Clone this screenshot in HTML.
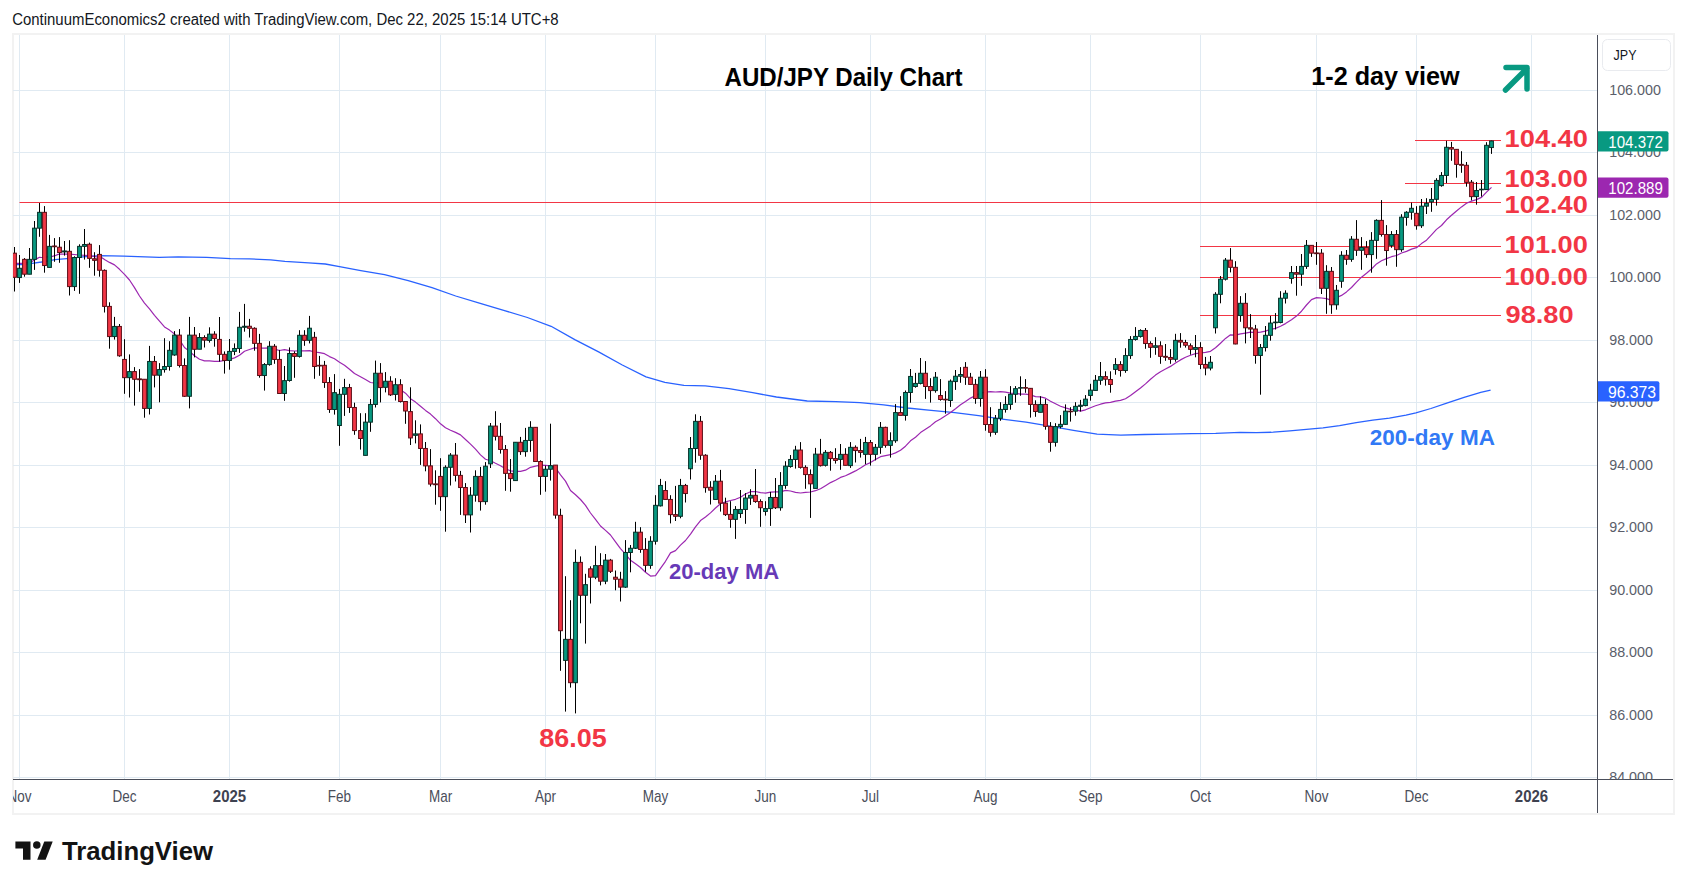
<!DOCTYPE html><html><head><meta charset="utf-8"><style>
html,body{margin:0;padding:0;background:#fff;}
body{width:1687px;height:889px;overflow:hidden;position:relative;font-family:"Liberation Sans",sans-serif;}
svg{position:absolute;left:0;top:0;}
</style></head><body>
<svg width="1687" height="889" viewBox="0 0 1687 889" font-family="Liberation Sans, sans-serif">
<defs><clipPath id="pane"><rect x="13" y="35" width="1584.5" height="744"/></clipPath><clipPath id="paxis"><rect x="1598" y="35" width="75" height="744.5"/></clipPath></defs>
<text x="12.2" y="25" font-size="15.6" fill="#131722" textLength="546.5" lengthAdjust="spacingAndGlyphs">ContinuumEconomics2 created with TradingView.com, Dec 22, 2025 15:14 UTC+8</text>
<rect x="13" y="34" width="1661" height="780" fill="#fff" stroke="#f2f2f2" stroke-width="2"/>
<g clip-path="url(#pane)">
<path d="M19.5 35V779 M124.5 35V779 M229.5 35V779 M339.5 35V779 M440.5 35V779 M545.5 35V779 M655.5 35V779 M765.5 35V779 M870.5 35V779 M985.5 35V779 M1090.5 35V779 M1200.5 35V779 M1316.5 35V779 M1416.5 35V779 M1531.5 35V779 M13 90.5H1597 M13 152.5H1597 M13 215.5H1597 M13 277.5H1597 M13 340.5H1597 M13 402.5H1597 M13 465.5H1597 M13 527.5H1597 M13 590.5H1597 M13 652.5H1597 M13 715.5H1597 M13 777.5H1597" stroke="#e0eaf2" stroke-width="1" fill="none"/>
<path d="M1415.0 140.5H1501 M1405.0 183.5H1501 M19.5 202.5H1501 M1200.0 246.5H1501 M1200.0 277.5H1501 M1200.0 315.5H1501" stroke="#f23645" stroke-width="1" fill="none"/>
<polyline points="13.0,264.6 16.7,264.5 21.9,264.6 32.0,263.3 41.5,262.0 52.3,260.2 55.0,259.7 66.7,258.6 83.0,256.9 100.0,255.7 123.7,256.1 159.3,257.3 178.2,256.9 206.7,257.3 230.4,258.6 249.4,258.8 270.7,259.9 284.9,261.4 308.7,262.8 325.3,264.0 339.5,266.6 360.8,270.6 384.5,274.6 408.2,280.6 432.0,287.7 455.7,296.0 479.4,303.1 503.7,310.4 527.4,317.5 551.1,326.3 574.8,339.6 598.6,351.9 622.3,365.0 646.0,376.8 664.9,382.3 683.9,385.4 705.3,385.8 729.0,388.7 752.7,392.7 776.4,397.0 807.2,401.0 835.7,401.7 860.0,402.6 883.7,404.9 907.4,408.0 931.1,410.3 954.8,412.7 978.6,415.6 1002.3,419.1 1026.0,422.2 1049.7,426.2 1073.4,430.3 1097.1,434.1 1120.8,435.2 1144.5,434.5 1168.2,434.1 1191.9,433.6 1215.7,433.3 1240.0,432.3 1256.6,432.6 1273.2,432.2 1289.8,430.9 1306.4,429.4 1323.0,427.8 1339.6,425.6 1356.2,422.6 1372.8,420.1 1389.4,418.1 1406.0,415.1 1415.9,412.8 1430.9,408.5 1447.5,402.9 1464.1,397.4 1480.7,392.4 1490.6,390.2" fill="none" stroke="#2962ff" stroke-width="1.3" stroke-linejoin="round"/>
<polyline points="13.0,263.4 16.7,263.3 21.9,263.3 32.0,261.5 37.0,258.6 39.4,257.3 41.5,257.5 52.3,256.4 55.0,255.7 58.1,254.4 61.7,254.0 66.7,254.2 69.4,254.2 79.3,255.0 89.2,255.6 96.6,256.9 101.6,257.5 105.3,260.0 109.5,262.4 114.5,264.9 119.5,269.3 124.5,274.4 129.5,280.0 134.5,287.6 139.5,296.0 144.5,303.1 149.5,308.9 154.5,315.3 159.5,321.1 164.5,326.9 169.5,330.1 174.5,334.0 179.5,339.9 184.5,347.5 189.5,351.4 194.5,355.8 199.5,359.2 204.5,360.9 209.5,360.8 214.5,361.4 219.5,361.3 224.5,360.4 229.5,359.4 234.5,357.9 239.5,355.3 244.5,351.2 249.5,349.5 254.5,347.9 259.5,348.2 264.5,348.1 269.5,347.9 274.5,349.1 279.5,350.5 284.5,349.7 289.5,350.7 294.5,351.0 299.5,350.9 304.5,350.9 309.5,350.6 314.5,352.0 319.5,352.6 324.5,353.7 329.5,356.6 334.5,358.8 339.5,362.2 344.5,365.2 349.5,369.2 354.5,373.5 360.5,376.7 365.5,379.6 370.5,382.5 375.5,383.2 380.5,382.9 385.5,382.9 390.5,385.0 395.5,386.4 400.5,389.7 405.5,393.2 410.5,398.7 415.5,402.1 420.5,406.2 425.5,410.4 430.5,414.1 435.5,418.7 440.5,423.8 445.5,427.8 450.5,430.2 455.5,432.4 460.5,434.9 465.5,439.5 470.5,444.1 475.5,449.2 480.5,454.9 485.5,459.2 490.5,460.7 495.5,463.3 500.5,465.7 505.5,468.8 510.5,470.9 515.5,471.3 520.5,471.4 525.5,470.2 530.5,467.3 535.5,466.2 540.5,465.2 545.5,465.3 550.5,465.8 555.5,467.8 560.5,474.9 565.5,481.1 570.5,490.5 575.5,494.8 580.5,499.5 585.5,505.4 590.5,513.0 595.5,519.4 600.5,526.0 605.5,530.4 610.5,535.0 615.5,541.9 620.5,548.6 625.5,554.2 630.5,560.3 635.5,563.8 640.5,567.5 645.5,572.3 650.5,576.1 655.5,575.6 660.5,568.3 665.5,561.3 670.5,552.9 675.5,550.6 680.5,545.1 685.5,540.5 690.5,534.1 695.5,526.9 700.5,520.6 705.5,517.0 710.5,512.9 715.5,508.0 720.5,503.8 725.5,501.9 730.5,500.5 735.5,499.3 740.5,497.3 745.5,494.0 750.5,491.7 755.5,491.5 760.5,492.6 765.5,493.1 770.5,492.2 775.5,491.8 780.5,491.8 785.5,490.4 790.5,491.0 795.5,492.4 800.5,493.0 805.5,492.3 810.5,492.0 815.5,490.7 820.5,488.8 825.5,485.7 830.5,482.6 835.5,480.2 840.5,477.4 845.5,475.8 850.5,473.4 855.5,470.9 860.5,468.1 865.5,464.8 870.5,462.6 875.5,459.6 880.5,456.7 885.5,455.7 890.5,454.7 895.5,452.9 900.5,450.3 905.5,446.2 910.5,440.8 915.5,437.2 920.5,432.6 925.5,429.3 930.5,425.9 935.5,421.8 940.5,419.0 945.5,415.8 950.5,412.4 955.5,408.7 960.5,404.8 965.5,401.6 970.5,398.1 975.5,395.6 980.5,393.1 985.5,392.1 990.5,391.7 995.5,392.0 1000.5,391.7 1005.5,392.2 1010.5,393.1 1015.5,393.4 1020.5,394.1 1025.5,394.2 1030.5,394.9 1035.5,396.6 1040.5,396.9 1045.5,398.2 1050.5,401.2 1055.5,403.8 1060.5,406.3 1065.5,407.9 1070.5,409.3 1075.5,409.7 1080.5,411.1 1085.5,409.8 1090.5,407.7 1095.5,405.8 1100.5,404.2 1105.5,402.9 1110.5,402.4 1115.5,401.2 1120.5,400.4 1125.5,398.7 1130.5,395.5 1135.5,391.7 1140.5,388.0 1145.5,383.9 1150.5,379.2 1155.5,375.1 1160.5,371.7 1165.5,369.0 1170.5,366.4 1175.5,363.1 1180.5,359.9 1185.5,357.2 1190.5,355.2 1195.5,353.6 1200.5,353.0 1205.5,352.4 1210.5,351.3 1215.5,347.8 1220.5,343.2 1225.5,338.4 1230.5,334.8 1235.5,335.2 1240.5,333.9 1245.5,333.1 1250.5,332.2 1255.5,332.6 1260.5,332.2 1265.5,331.1 1270.5,329.3 1275.5,328.4 1280.5,326.2 1285.5,323.6 1291.5,319.8 1296.5,316.1 1301.5,311.2 1306.5,305.0 1311.5,299.6 1316.5,297.6 1321.5,298.0 1326.5,298.6 1331.5,300.4 1336.5,297.8 1341.5,295.4 1346.5,291.9 1351.5,287.5 1356.5,282.2 1361.5,277.2 1366.5,273.2 1371.5,269.0 1376.5,263.9 1381.5,260.7 1386.5,258.6 1391.5,256.7 1396.5,255.5 1401.5,253.0 1406.5,251.4 1411.5,249.1 1416.5,247.7 1421.5,243.6 1426.5,240.2 1431.5,234.9 1436.5,229.4 1441.5,225.5 1446.5,219.8 1451.5,215.3 1456.5,211.0 1461.5,206.9 1466.5,203.3 1471.5,201.1 1476.5,199.6 1481.5,197.4 1486.5,192.1 1491.5,187.4" fill="none" stroke="#9c27b0" stroke-width="1.2" stroke-linejoin="round"/>
<path d="M14.5 247.0V291.5 M19.5 255.0V282.9 M24.5 258.1V276.7 M29.5 248.0V274.2 M34.5 221.0V269.9 M39.5 203.0V236.8 M44.5 206.1V272.7 M49.5 234.9V267.4 M54.5 238.1V261.8 M59.5 237.1V262.8 M64.5 241.0V255.6 M69.5 240.2V295.5 M74.5 256.3V290.9 M79.5 244.3V293.8 M84.5 229.0V259.6 M89.5 242.6V267.8 M94.5 252.2V275.7 M99.5 245.1V276.7 M104.5 269.4V312.5 M109.5 302.3V348.7 M114.5 316.9V339.6 M119.5 324.0V356.8 M124.5 339.2V393.8 M129.5 354.4V397.5 M134.5 367.1V405.6 M139.5 369.1V391.8 M144.5 379.3V417.7 M149.5 345.9V414.5 M154.5 356.0V387.4 M159.5 363.1V402.3 M164.5 338.2V372.6 M169.5 341.2V370.6 M174.5 331.1V355.8 M179.5 329.1V367.5 M184.5 358.4V396.9 M189.5 316.9V408.4 M194.5 327.0V357.4 M199.5 333.1V349.2 M204.5 335.3V347.5 M209.5 327.3V342.6 M214.5 331.2V346.7 M219.5 317.0V361.6 M224.5 351.4V373.6 M229.5 339.0V369.7 M234.5 343.4V355.1 M239.5 311.9V352.9 M244.5 303.9V331.7 M249.5 318.9V337.5 M254.5 327.3V350.7 M259.5 333.9V377.7 M264.5 363.1V390.6 M269.5 341.2V365.7 M274.5 344.1V363.8 M279.5 349.9V393.5 M284.5 366.0V400.8 M289.5 347.4V381.7 M294.5 351.3V377.8 M299.5 330.2V357.6 M304.5 330.2V345.8 M309.5 315.9V343.4 M314.5 331.9V378.8 M319.5 355.9V375.8 M324.5 360.9V387.9 M329.5 377.1V412.9 M334.5 374.1V414.6 M339.5 388.9V445.8 M344.5 378.8V415.9 M349.5 383.9V412.9 M354.5 402.7V434.8 M360.5 413.2V449.6 M365.5 413.2V455.4 M370.5 399.0V431.8 M375.5 360.6V407.5 M380.5 363.1V402.4 M385.5 372.1V392.4 M390.5 376.2V396.0 M395.5 378.2V400.5 M400.5 379.2V402.5 M405.5 401.5V423.8 M410.5 387.3V445.0 M415.5 420.3V443.4 M420.5 424.4V464.9 M425.5 442.0V471.3 M430.5 449.1V486.5 M435.5 470.3V504.7 M440.5 458.2V510.8 M445.5 465.3V531.7 M450.5 453.1V485.5 M455.5 443.0V481.5 M460.5 470.9V514.9 M465.5 483.1V523.0 M470.5 487.1V532.5 M475.5 470.3V501.7 M480.5 466.9V510.6 M485.5 462.1V504.7 M490.5 423.0V468.0 M495.5 411.2V440.5 M500.5 423.0V453.6 M505.5 445.0V490.8 M510.5 459.0V491.7 M515.5 442.3V480.6 M520.5 436.9V454.9 M525.5 427.9V456.7 M530.5 421.2V451.8 M535.5 427.3V461.5 M540.5 460.3V494.8 M545.5 465.6V491.7 M550.5 423.7V480.6 M555.5 465.1V518.7 M560.5 508.7V670.8 M565.5 576.2V711.6 M570.5 600.2V687.6 M575.5 549.5V713.4 M580.5 556.4V623.3 M585.5 573.8V643.6 M590.5 566.3V603.5 M595.5 545.8V579.2 M600.5 553.2V585.4 M605.5 554.0V584.2 M610.5 558.9V573.0 M615.5 570.5V590.3 M620.5 571.8V601.5 M625.5 540.1V587.9 M630.5 545.0V572.3 M635.5 521.8V549.0 M640.5 527.2V552.8 M645.5 538.1V571.8 M650.5 536.2V568.8 M655.5 495.2V544.6 M660.5 478.9V506.5 M665.5 481.2V499.4 M670.5 495.2V523.4 M675.5 485.9V521.0 M680.5 478.9V518.3 M685.5 483.9V502.5 M690.5 437.0V479.5 M695.5 414.3V462.7 M700.5 416.0V459.8 M705.5 454.2V492.7 M710.5 481.2V504.5 M715.5 475.0V499.4 M720.5 469.9V511.6 M725.5 497.7V516.0 M730.5 501.2V527.8 M735.5 506.1V538.9 M740.5 490.0V517.9 M745.5 493.1V523.8 M750.5 489.2V504.9 M755.5 469.0V502.8 M760.5 499.3V526.8 M765.5 501.2V515.6 M770.5 491.9V525.9 M775.5 478.0V509.0 M780.5 472.1V510.7 M785.5 461.2V488.8 M790.5 455.0V467.7 M795.5 445.8V468.6 M800.5 442.1V468.6 M805.5 465.3V488.8 M810.5 469.4V517.9 M815.5 447.9V488.4 M820.5 438.9V466.5 M825.5 450.1V466.5 M830.5 451.0V470.7 M835.5 448.2V463.6 M840.5 444.0V469.8 M845.5 448.2V465.3 M850.5 442.1V467.9 M855.5 445.4V462.5 M860.5 438.9V457.6 M865.5 436.9V464.2 M870.5 440.0V465.6 M875.5 444.0V460.4 M880.5 422.0V453.8 M885.5 426.7V447.7 M890.5 432.3V457.6 M895.5 404.1V442.8 M900.5 396.1V415.4 M905.5 390.5V420.6 M910.5 369.0V402.7 M915.5 372.9V387.7 M920.5 358.0V384.4 M925.5 361.1V398.9 M930.5 378.2V402.6 M935.5 372.0V392.7 M940.5 379.1V400.7 M945.5 391.1V413.7 M950.5 379.5V406.9 M955.5 370.0V389.9 M960.5 367.1V382.8 M965.5 362.1V384.9 M970.5 372.9V384.4 M975.5 379.1V403.8 M980.5 371.0V406.7 M985.5 369.2V430.7 M990.5 407.2V436.6 M995.5 415.0V434.8 M1000.5 402.2V420.8 M1005.5 396.2V412.6 M1010.5 386.1V409.7 M1015.5 386.1V402.7 M1020.5 376.3V395.8 M1025.5 379.1V392.8 M1030.5 388.1V417.6 M1035.5 400.3V416.8 M1040.5 396.2V412.3 M1045.5 399.1V429.7 M1050.5 422.1V451.7 M1055.5 423.2V446.6 M1060.5 415.1V428.4 M1065.5 404.4V424.7 M1070.5 407.2V421.6 M1075.5 402.2V415.7 M1080.5 399.9V411.5 M1085.5 395.1V406.3 M1090.5 383.8V400.7 M1095.5 375.0V390.4 M1100.5 362.0V384.8 M1105.5 371.3V385.6 M1110.5 371.3V392.7 M1115.5 358.1V374.7 M1120.5 361.2V376.6 M1125.5 348.2V372.8 M1130.5 336.1V358.9 M1135.5 327.1V340.6 M1140.5 329.3V337.6 M1145.5 328.0V348.8 M1150.5 341.3V357.8 M1155.5 337.2V354.8 M1160.5 341.3V363.8 M1165.5 344.0V360.8 M1170.5 349.1V363.8 M1175.5 333.8V361.7 M1180.5 333.1V347.7 M1185.5 339.8V347.6 M1190.5 343.4V354.7 M1195.5 335.0V357.3 M1200.5 342.2V369.1 M1205.5 356.9V375.3 M1210.5 356.0V370.4 M1215.5 292.2V333.5 M1220.5 276.0V303.3 M1225.5 258.0V280.5 M1230.5 248.1V272.4 M1235.5 261.2V344.3 M1240.5 296.1V321.8 M1245.5 293.1V343.4 M1250.5 314.1V338.0 M1255.5 324.9V363.7 M1260.5 344.0V394.7 M1265.5 326.0V351.5 M1270.5 315.9V340.7 M1275.5 313.1V329.5 M1280.5 291.2V323.3 M1285.5 290.3V303.5 M1291.5 266.0V283.7 M1296.5 266.0V295.7 M1301.5 254.0V285.8 M1306.5 240.0V268.9 M1311.5 245.4V256.9 M1316.5 242.0V264.8 M1321.5 249.1V294.0 M1326.5 265.2V313.8 M1331.5 267.0V313.8 M1336.5 285.0V309.7 M1341.5 251.2V287.8 M1346.5 250.0V264.8 M1351.5 236.1V261.8 M1356.5 220.1V255.9 M1361.5 237.1V269.8 M1366.5 241.1V257.8 M1371.5 232.1V272.7 M1376.5 219.3V258.8 M1381.5 200.1V236.6 M1386.5 225.1V265.7 M1391.5 231.1V247.8 M1396.5 230.0V266.8 M1401.5 214.2V251.8 M1406.5 211.2V225.7 M1411.5 202.6V219.7 M1416.5 206.2V229.7 M1421.5 199.0V227.9 M1426.5 198.2V214.0 M1431.5 188.0V211.8 M1436.5 178.2V205.6 M1441.5 172.1V186.7 M1446.5 140.8V183.1 M1451.5 141.9V160.8 M1456.5 149.1V177.7 M1461.5 151.2V172.8 M1466.5 162.0V186.7 M1471.5 180.0V200.4 M1476.5 182.0V204.7 M1481.5 180.0V196.6 M1486.5 142.2V189.6 M1491.5 140.6V153.9" stroke="#000" stroke-width="1" fill="none"/>
<g fill="#089981" stroke="#052e26" stroke-width="1"><rect x="17.60" y="268.27" width="3.80" height="9.28"/><rect x="27.60" y="259.36" width="3.80" height="14.85"/><rect x="32.60" y="228.17" width="3.80" height="31.19"/><rect x="37.60" y="212.33" width="3.80" height="15.84"/><rect x="47.60" y="246.36" width="3.80" height="21.04"/><rect x="62.60" y="250.94" width="3.80" height="0.99"/><rect x="72.60" y="257.50" width="3.80" height="29.08"/><rect x="77.60" y="246.36" width="3.80" height="11.14"/><rect x="82.60" y="244.50" width="3.80" height="1.86"/><rect x="112.60" y="326.44" width="3.80" height="10.12"/><rect x="127.60" y="371.58" width="3.80" height="6.07"/><rect x="147.60" y="361.46" width="3.80" height="46.96"/><rect x="157.60" y="369.55" width="3.80" height="5.67"/><rect x="162.60" y="366.52" width="3.80" height="3.04"/><rect x="167.60" y="350.32" width="3.80" height="16.19"/><rect x="172.60" y="335.14" width="3.80" height="19.84"/><rect x="187.60" y="335.14" width="3.80" height="61.13"/><rect x="197.60" y="337.51" width="3.80" height="11.70"/><rect x="207.60" y="334.15" width="3.80" height="6.29"/><rect x="227.60" y="351.40" width="3.80" height="9.06"/><rect x="232.60" y="348.48" width="3.80" height="2.92"/><rect x="237.60" y="327.28" width="3.80" height="21.20"/><rect x="242.60" y="326.26" width="3.80" height="1.02"/><rect x="262.60" y="364.56" width="3.80" height="10.96"/><rect x="267.60" y="346.29" width="3.80" height="18.27"/><rect x="282.60" y="380.64" width="3.80" height="12.87"/><rect x="287.60" y="353.51" width="3.80" height="26.98"/><rect x="297.60" y="335.30" width="3.80" height="21.08"/><rect x="307.60" y="328.21" width="3.80" height="12.14"/><rect x="332.60" y="392.63" width="3.80" height="16.86"/><rect x="337.60" y="394.32" width="3.80" height="31.20"/><rect x="342.60" y="387.57" width="3.80" height="6.75"/><rect x="363.60" y="422.14" width="3.80" height="33.22"/><rect x="368.60" y="404.44" width="3.80" height="17.71"/><rect x="373.60" y="373.24" width="3.80" height="31.20"/><rect x="383.60" y="381.26" width="3.80" height="6.07"/><rect x="393.60" y="384.70" width="3.80" height="9.72"/><rect x="413.60" y="433.89" width="3.80" height="1.42"/><rect x="443.60" y="467.29" width="3.80" height="29.35"/><rect x="448.60" y="455.14" width="3.80" height="12.15"/><rect x="468.60" y="495.22" width="3.80" height="19.64"/><rect x="473.60" y="476.40" width="3.80" height="18.83"/><rect x="483.60" y="466.19" width="3.80" height="35.43"/><rect x="488.60" y="426.08" width="3.80" height="37.77"/><rect x="513.60" y="442.27" width="3.80" height="38.31"/><rect x="523.60" y="440.47" width="3.80" height="11.15"/><rect x="528.60" y="427.34" width="3.80" height="13.13"/><rect x="543.60" y="469.24" width="3.80" height="7.19"/><rect x="548.60" y="465.65" width="3.80" height="3.60"/><rect x="563.60" y="639.36" width="3.80" height="21.04"/><rect x="573.60" y="562.38" width="3.80" height="120.30"/><rect x="583.60" y="584.65" width="3.80" height="10.64"/><rect x="593.60" y="565.59" width="3.80" height="11.63"/><rect x="603.60" y="560.15" width="3.80" height="21.04"/><rect x="623.60" y="552.48" width="3.80" height="34.65"/><rect x="628.60" y="548.27" width="3.80" height="4.21"/><rect x="633.60" y="532.18" width="3.80" height="16.09"/><rect x="648.60" y="541.30" width="3.80" height="24.10"/><rect x="653.60" y="505.34" width="3.80" height="35.92"/><rect x="658.60" y="485.44" width="3.80" height="20.40"/><rect x="678.60" y="485.44" width="3.80" height="30.86"/><rect x="688.60" y="448.51" width="3.80" height="20.24"/><rect x="693.60" y="421.36" width="3.80" height="27.15"/><rect x="713.60" y="481.22" width="3.80" height="18.21"/><rect x="733.60" y="509.46" width="3.80" height="9.90"/><rect x="738.60" y="509.46" width="3.80" height="4.08"/><rect x="743.60" y="498.07" width="3.80" height="11.39"/><rect x="748.60" y="495.35" width="3.80" height="2.72"/><rect x="763.60" y="508.59" width="3.80" height="2.85"/><rect x="768.60" y="497.45" width="3.80" height="11.14"/><rect x="778.60" y="485.45" width="3.80" height="22.28"/><rect x="783.60" y="466.14" width="3.80" height="19.31"/><rect x="788.60" y="459.46" width="3.80" height="7.05"/><rect x="793.60" y="450.05" width="3.80" height="9.41"/><rect x="813.60" y="454.13" width="3.80" height="34.28"/><rect x="823.60" y="452.39" width="3.80" height="12.94"/><rect x="838.60" y="454.36" width="3.80" height="5.06"/><rect x="848.60" y="447.33" width="3.80" height="18.28"/><rect x="863.60" y="442.55" width="3.80" height="11.81"/><rect x="873.60" y="447.33" width="3.80" height="7.03"/><rect x="878.60" y="427.36" width="3.80" height="19.97"/><rect x="888.60" y="440.72" width="3.80" height="4.64"/><rect x="893.60" y="412.59" width="3.80" height="28.13"/><rect x="903.60" y="392.48" width="3.80" height="22.93"/><rect x="908.60" y="376.44" width="3.80" height="16.03"/><rect x="913.60" y="383.42" width="3.80" height="3.09"/><rect x="918.60" y="373.27" width="3.80" height="10.15"/><rect x="933.60" y="377.23" width="3.80" height="13.37"/><rect x="948.60" y="381.19" width="3.80" height="19.31"/><rect x="953.60" y="376.24" width="3.80" height="5.32"/><rect x="958.60" y="374.50" width="3.80" height="1.73"/><rect x="978.60" y="377.23" width="3.80" height="21.29"/><rect x="993.60" y="418.32" width="3.80" height="13.99"/><rect x="998.60" y="409.41" width="3.80" height="8.91"/><rect x="1003.60" y="404.43" width="3.80" height="5.06"/><rect x="1008.60" y="394.31" width="3.80" height="10.12"/><rect x="1013.60" y="388.68" width="3.80" height="5.62"/><rect x="1018.60" y="387.56" width="3.80" height="0.60"/><rect x="1038.60" y="404.43" width="3.80" height="7.87"/><rect x="1053.60" y="426.59" width="3.80" height="15.75"/><rect x="1058.60" y="424.34" width="3.80" height="2.25"/><rect x="1063.60" y="411.18" width="3.80" height="13.16"/><rect x="1073.60" y="406.34" width="3.80" height="4.84"/><rect x="1078.60" y="405.22" width="3.80" height="1.12"/><rect x="1083.60" y="399.15" width="3.80" height="6.41"/><rect x="1088.60" y="390.15" width="3.80" height="5.29"/><rect x="1093.60" y="380.30" width="3.80" height="10.12"/><rect x="1098.60" y="376.59" width="3.80" height="3.71"/><rect x="1113.60" y="364.56" width="3.80" height="4.84"/><rect x="1123.60" y="355.56" width="3.80" height="14.96"/><rect x="1128.60" y="339.47" width="3.80" height="16.09"/><rect x="1133.60" y="336.43" width="3.80" height="3.04"/><rect x="1138.60" y="330.47" width="3.80" height="5.96"/><rect x="1153.60" y="345.77" width="3.80" height="1.57"/><rect x="1173.60" y="340.37" width="3.80" height="18.90"/><rect x="1193.60" y="347.55" width="3.80" height="1.80"/><rect x="1208.60" y="362.30" width="3.80" height="5.76"/><rect x="1213.60" y="294.32" width="3.80" height="33.45"/><rect x="1218.60" y="279.21" width="3.80" height="15.11"/><rect x="1223.60" y="260.14" width="3.80" height="19.06"/><rect x="1238.60" y="303.31" width="3.80" height="12.23"/><rect x="1258.60" y="347.55" width="3.80" height="7.91"/><rect x="1263.60" y="335.32" width="3.80" height="12.23"/><rect x="1268.60" y="323.09" width="3.80" height="12.23"/><rect x="1273.60" y="322.10" width="3.80" height="0.62"/><rect x="1278.60" y="298.22" width="3.80" height="24.26"/><rect x="1283.60" y="293.27" width="3.80" height="4.95"/><rect x="1289.60" y="272.60" width="3.80" height="5.82"/><rect x="1299.60" y="266.41" width="3.80" height="7.80"/><rect x="1304.60" y="245.37" width="3.80" height="21.04"/><rect x="1324.60" y="271.36" width="3.80" height="16.96"/><rect x="1334.60" y="290.30" width="3.80" height="14.48"/><rect x="1339.60" y="255.27" width="3.80" height="25.99"/><rect x="1349.60" y="239.18" width="3.80" height="20.17"/><rect x="1359.60" y="247.48" width="3.80" height="2.85"/><rect x="1369.60" y="240.36" width="3.80" height="14.21"/><rect x="1374.60" y="220.38" width="3.80" height="19.98"/><rect x="1389.60" y="234.49" width="3.80" height="10.90"/><rect x="1399.60" y="217.18" width="3.80" height="32.48"/><rect x="1404.60" y="212.26" width="3.80" height="5.13"/><rect x="1409.60" y="208.31" width="3.80" height="3.95"/><rect x="1419.60" y="206.18" width="3.80" height="19.55"/><rect x="1424.60" y="203.29" width="3.80" height="2.88"/><rect x="1429.60" y="199.44" width="3.80" height="2.46"/><rect x="1434.60" y="180.41" width="3.80" height="18.90"/><rect x="1439.60" y="175.45" width="3.80" height="10.17"/><rect x="1444.60" y="147.28" width="3.80" height="28.17"/><rect x="1474.60" y="190.49" width="3.80" height="6.12"/><rect x="1479.60" y="189.23" width="3.80" height="0.60"/><rect x="1484.60" y="145.30" width="3.80" height="44.28"/><rect x="1489.60" y="140.98" width="3.80" height="6.57"/></g>
<g fill="#f23645" stroke="#5a0c14" stroke-width="1"><rect x="12.60" y="253.17" width="3.80" height="24.13"/><rect x="22.60" y="259.36" width="3.80" height="14.85"/><rect x="42.60" y="212.33" width="3.80" height="53.22"/><rect x="52.60" y="245.99" width="3.80" height="0.74"/><rect x="57.60" y="247.23" width="3.80" height="5.32"/><rect x="67.60" y="251.31" width="3.80" height="35.27"/><rect x="87.60" y="244.26" width="3.80" height="14.11"/><rect x="92.60" y="258.74" width="3.80" height="1.61"/><rect x="97.60" y="254.41" width="3.80" height="15.84"/><rect x="102.60" y="270.36" width="3.80" height="36.03"/><rect x="107.60" y="306.40" width="3.80" height="30.16"/><rect x="117.60" y="326.44" width="3.80" height="29.35"/><rect x="122.60" y="359.43" width="3.80" height="18.22"/><rect x="132.60" y="371.58" width="3.80" height="7.69"/><rect x="137.60" y="378.87" width="3.80" height="0.81"/><rect x="142.60" y="379.27" width="3.80" height="29.15"/><rect x="152.60" y="361.46" width="3.80" height="13.77"/><rect x="177.60" y="335.14" width="3.80" height="30.36"/><rect x="182.60" y="365.51" width="3.80" height="30.77"/><rect x="192.60" y="335.14" width="3.80" height="14.17"/><rect x="202.60" y="337.51" width="3.80" height="2.63"/><rect x="212.60" y="334.15" width="3.80" height="4.39"/><rect x="217.60" y="339.42" width="3.80" height="14.91"/><rect x="222.60" y="354.33" width="3.80" height="6.14"/><rect x="247.60" y="326.26" width="3.80" height="2.05"/><rect x="252.60" y="328.30" width="3.80" height="15.06"/><rect x="257.60" y="343.36" width="3.80" height="32.16"/><rect x="272.60" y="346.29" width="3.80" height="13.16"/><rect x="277.60" y="359.44" width="3.80" height="34.06"/><rect x="292.60" y="353.51" width="3.80" height="2.87"/><rect x="302.60" y="335.30" width="3.80" height="5.06"/><rect x="312.60" y="337.32" width="3.80" height="29.17"/><rect x="317.60" y="365.31" width="3.80" height="0.67"/><rect x="322.60" y="365.31" width="3.80" height="17.20"/><rect x="327.60" y="382.51" width="3.80" height="26.98"/><rect x="347.60" y="387.57" width="3.80" height="19.90"/><rect x="352.60" y="407.47" width="3.80" height="23.10"/><rect x="358.60" y="430.57" width="3.80" height="7.93"/><rect x="378.60" y="373.24" width="3.80" height="14.33"/><rect x="388.60" y="381.26" width="3.80" height="13.56"/><rect x="398.60" y="384.70" width="3.80" height="16.80"/><rect x="403.60" y="401.50" width="3.80" height="9.51"/><rect x="408.60" y="411.62" width="3.80" height="26.32"/><rect x="418.60" y="433.89" width="3.80" height="14.57"/><rect x="423.60" y="448.46" width="3.80" height="17.41"/><rect x="428.60" y="465.87" width="3.80" height="18.22"/><rect x="433.60" y="483.89" width="3.80" height="0.81"/><rect x="438.60" y="476.40" width="3.80" height="20.24"/><rect x="453.60" y="455.14" width="3.80" height="20.24"/><rect x="458.60" y="475.38" width="3.80" height="12.15"/><rect x="463.60" y="487.53" width="3.80" height="27.33"/><rect x="478.60" y="476.44" width="3.80" height="25.18"/><rect x="493.60" y="426.08" width="3.80" height="10.25"/><rect x="498.60" y="436.33" width="3.80" height="13.13"/><rect x="503.60" y="449.46" width="3.80" height="23.92"/><rect x="508.60" y="473.38" width="3.80" height="5.22"/><rect x="518.60" y="442.27" width="3.80" height="9.35"/><rect x="533.60" y="427.34" width="3.80" height="34.17"/><rect x="538.60" y="461.51" width="3.80" height="14.93"/><rect x="553.60" y="465.11" width="3.80" height="50.00"/><rect x="558.60" y="515.35" width="3.80" height="115.35"/><rect x="568.60" y="639.36" width="3.80" height="43.32"/><rect x="578.60" y="562.38" width="3.80" height="32.92"/><rect x="588.60" y="568.81" width="3.80" height="8.42"/><rect x="598.60" y="565.59" width="3.80" height="15.59"/><rect x="608.60" y="560.15" width="3.80" height="11.14"/><rect x="613.60" y="577.23" width="3.80" height="1.98"/><rect x="618.60" y="579.21" width="3.80" height="7.92"/><rect x="638.60" y="532.20" width="3.80" height="17.30"/><rect x="643.60" y="549.40" width="3.80" height="16.00"/><rect x="663.60" y="490.50" width="3.80" height="8.94"/><rect x="668.60" y="499.44" width="3.80" height="15.18"/><rect x="673.60" y="514.61" width="3.80" height="1.69"/><rect x="683.60" y="485.44" width="3.80" height="8.09"/><rect x="698.60" y="421.36" width="3.80" height="33.90"/><rect x="703.60" y="455.25" width="3.80" height="32.38"/><rect x="708.60" y="487.29" width="3.80" height="2.87"/><rect x="718.60" y="481.22" width="3.80" height="21.92"/><rect x="723.60" y="503.15" width="3.80" height="11.47"/><rect x="728.60" y="514.41" width="3.80" height="4.95"/><rect x="753.60" y="495.35" width="3.80" height="6.19"/><rect x="758.60" y="501.53" width="3.80" height="6.19"/><rect x="773.60" y="497.45" width="3.80" height="10.27"/><rect x="798.60" y="450.05" width="3.80" height="17.33"/><rect x="803.60" y="467.38" width="3.80" height="7.18"/><rect x="808.60" y="474.55" width="3.80" height="9.28"/><rect x="818.60" y="454.13" width="3.80" height="11.51"/><rect x="828.60" y="452.39" width="3.80" height="6.19"/><rect x="833.60" y="458.58" width="3.80" height="1.83"/><rect x="843.60" y="454.36" width="3.80" height="10.97"/><rect x="853.60" y="447.33" width="3.80" height="3.23"/><rect x="858.60" y="450.56" width="3.80" height="1.83"/><rect x="868.60" y="442.55" width="3.80" height="11.81"/><rect x="883.60" y="427.36" width="3.80" height="18.00"/><rect x="898.60" y="412.59" width="3.80" height="2.81"/><rect x="923.60" y="373.27" width="3.80" height="13.24"/><rect x="928.60" y="386.51" width="3.80" height="4.08"/><rect x="938.60" y="395.54" width="3.80" height="3.96"/><rect x="943.60" y="399.26" width="3.80" height="0.60"/><rect x="963.60" y="367.33" width="3.80" height="9.90"/><rect x="968.60" y="377.23" width="3.80" height="7.18"/><rect x="973.60" y="384.41" width="3.80" height="14.11"/><rect x="983.60" y="377.23" width="3.80" height="47.28"/><rect x="988.60" y="424.50" width="3.80" height="7.80"/><rect x="1023.60" y="387.56" width="3.80" height="0.60"/><rect x="1028.60" y="388.35" width="3.80" height="16.09"/><rect x="1033.60" y="404.43" width="3.80" height="7.09"/><rect x="1043.60" y="404.43" width="3.80" height="21.93"/><rect x="1048.60" y="426.37" width="3.80" height="15.97"/><rect x="1068.60" y="411.18" width="3.80" height="0.60"/><rect x="1103.60" y="376.59" width="3.80" height="2.59"/><rect x="1108.60" y="379.52" width="3.80" height="4.95"/><rect x="1118.60" y="364.56" width="3.80" height="5.96"/><rect x="1143.60" y="330.47" width="3.80" height="13.05"/><rect x="1148.60" y="343.52" width="3.80" height="3.82"/><rect x="1158.60" y="345.77" width="3.80" height="10.57"/><rect x="1163.60" y="356.34" width="3.80" height="0.90"/><rect x="1168.60" y="357.47" width="3.80" height="1.80"/><rect x="1178.60" y="340.37" width="3.80" height="1.69"/><rect x="1183.60" y="342.52" width="3.80" height="2.70"/><rect x="1188.60" y="345.76" width="3.80" height="3.60"/><rect x="1198.60" y="347.55" width="3.80" height="16.91"/><rect x="1203.60" y="364.46" width="3.80" height="3.60"/><rect x="1228.60" y="260.14" width="3.80" height="7.19"/><rect x="1233.60" y="267.34" width="3.80" height="76.62"/><rect x="1243.60" y="303.31" width="3.80" height="24.46"/><rect x="1248.60" y="327.77" width="3.80" height="1.26"/><rect x="1253.60" y="329.03" width="3.80" height="26.44"/><rect x="1294.60" y="272.60" width="3.80" height="1.61"/><rect x="1309.60" y="245.37" width="3.80" height="7.80"/><rect x="1314.60" y="252.92" width="3.80" height="0.74"/><rect x="1319.60" y="253.17" width="3.80" height="35.15"/><rect x="1329.60" y="271.36" width="3.80" height="33.42"/><rect x="1344.60" y="255.27" width="3.80" height="4.08"/><rect x="1354.60" y="239.29" width="3.80" height="11.00"/><rect x="1364.60" y="247.31" width="3.80" height="7.26"/><rect x="1379.60" y="220.38" width="3.80" height="14.10"/><rect x="1384.60" y="234.49" width="3.80" height="16.03"/><rect x="1394.60" y="234.49" width="3.80" height="15.17"/><rect x="1414.60" y="213.33" width="3.80" height="12.39"/><rect x="1449.60" y="147.55" width="3.80" height="1.53"/><rect x="1454.60" y="149.35" width="3.80" height="15.03"/><rect x="1459.60" y="164.38" width="3.80" height="0.90"/><rect x="1464.60" y="165.28" width="3.80" height="17.10"/><rect x="1469.60" y="182.21" width="3.80" height="14.40"/></g>
</g>
<path d="M1597.5 35V813M13 779.5H1673" stroke="#4a4e5a" stroke-width="1" fill="none"/>
<g clip-path="url(#paxis)" fill="#5a5e6a" font-size="14.3">
<text transform="translate(1609.2 94.8) scale(1 1.064)">106.000</text>
<text transform="translate(1609.2 157.3) scale(1 1.064)">104.000</text>
<text transform="translate(1609.2 219.8) scale(1 1.064)">102.000</text>
<text transform="translate(1609.2 282.3) scale(1 1.064)">100.000</text>
<text transform="translate(1609.2 344.8) scale(1 1.064)">98.000</text>
<text transform="translate(1609.2 407.3) scale(1 1.064)">96.000</text>
<text transform="translate(1609.2 469.8) scale(1 1.064)">94.000</text>
<text transform="translate(1609.2 532.3) scale(1 1.064)">92.000</text>
<text transform="translate(1609.2 594.8) scale(1 1.064)">90.000</text>
<text transform="translate(1609.2 657.3) scale(1 1.064)">88.000</text>
<text transform="translate(1609.2 719.8) scale(1 1.064)">86.000</text>
<text transform="translate(1609.2 782.3) scale(1 1.064)">84.000</text>
</g>
<rect x="1602.5" y="39.5" width="68" height="31" rx="5" fill="#fff" stroke="#e9ebef" stroke-width="1"/>
<text transform="translate(1613.6 60) scale(1 1.08)" font-size="14.3" fill="#131722" textLength="22.9" lengthAdjust="spacingAndGlyphs">JPY</text>
<path d="M1598 131.3H1666.5a2 2 0 0 1 2 2V149.6a2 2 0 0 1 -2 2H1598Z" fill="#089981"/>
<text transform="translate(1608.3 147.9) scale(1 1.14)" font-size="14.3" fill="#fff" textLength="54.5" lengthAdjust="spacingAndGlyphs">104.372</text>
<path d="M1598 177.5H1666.5a2 2 0 0 1 2 2V195.8a2 2 0 0 1 -2 2H1598Z" fill="#9c27b0"/>
<text transform="translate(1608.3 194.2) scale(1 1.14)" font-size="14.3" fill="#fff" textLength="54.5" lengthAdjust="spacingAndGlyphs">102.889</text>
<path d="M1598 381.2H1657.4a2 2 0 0 1 2 2V399.4a2 2 0 0 1 -2 2H1598Z" fill="#2962ff"/>
<text transform="translate(1607.9 397.8) scale(1 1.14)" font-size="14.3" fill="#fff" textLength="48.2" lengthAdjust="spacingAndGlyphs">96.373</text>
<g font-size="13.5" fill="#4a4e5a" text-anchor="middle" clip-path="url(#pane2)">
<clipPath id="pane2"><rect x="13" y="780" width="1584" height="33"/></clipPath>
<text transform="translate(19.5 802) scale(1 1.17)">Nov</text>
<text transform="translate(124.5 802) scale(1 1.17)">Dec</text>
<text transform="translate(229.5 802) scale(1 1.17)" font-weight="bold" font-size="14.4" fill="#3e4250" textLength="33.3" lengthAdjust="spacingAndGlyphs">2025</text>
<text transform="translate(339.5 802) scale(1 1.17)">Feb</text>
<text transform="translate(440.5 802) scale(1 1.17)">Mar</text>
<text transform="translate(545.5 802) scale(1 1.17)">Apr</text>
<text transform="translate(655.5 802) scale(1 1.17)">May</text>
<text transform="translate(765.5 802) scale(1 1.17)">Jun</text>
<text transform="translate(870.5 802) scale(1 1.17)">Jul</text>
<text transform="translate(985.5 802) scale(1 1.17)">Aug</text>
<text transform="translate(1090.5 802) scale(1 1.17)">Sep</text>
<text transform="translate(1200.5 802) scale(1 1.17)">Oct</text>
<text transform="translate(1316.5 802) scale(1 1.17)">Nov</text>
<text transform="translate(1416.5 802) scale(1 1.17)">Dec</text>
<text transform="translate(1531.5 802) scale(1 1.17)" font-weight="bold" font-size="14.4" fill="#3e4250" textLength="33.3" lengthAdjust="spacingAndGlyphs">2026</text>
</g>
<text x="724.5" y="85.6" font-size="25.8" font-weight="bold" fill="#000" textLength="238" lengthAdjust="spacingAndGlyphs">AUD/JPY Daily Chart</text>
<text x="1311.3" y="84.9" font-size="25.8" font-weight="bold" fill="#000" textLength="148.4" lengthAdjust="spacingAndGlyphs">1-2 day view</text>
<path d="M1505.5 90L1527 68.5M1506 67.5H1527V89" stroke="#089981" stroke-width="5.5" stroke-linecap="round" stroke-linejoin="round" fill="none"/>
<text x="1504.6" y="146.8" font-size="23.4" font-weight="bold" fill="#f23645" textLength="83.3" lengthAdjust="spacingAndGlyphs">104.40</text>
<text x="1504.6" y="186.9" font-size="23.4" font-weight="bold" fill="#f23645" textLength="83.3" lengthAdjust="spacingAndGlyphs">103.00</text>
<text x="1504.6" y="212.9" font-size="23.4" font-weight="bold" fill="#f23645" textLength="83.3" lengthAdjust="spacingAndGlyphs">102.40</text>
<text x="1504.6" y="253.1" font-size="23.4" font-weight="bold" fill="#f23645" textLength="83.3" lengthAdjust="spacingAndGlyphs">101.00</text>
<text x="1504.6" y="284.9" font-size="23.4" font-weight="bold" fill="#f23645" textLength="83.3" lengthAdjust="spacingAndGlyphs">100.00</text>
<text x="1505.5" y="322.8" font-size="23.4" font-weight="bold" fill="#f23645" textLength="68.1" lengthAdjust="spacingAndGlyphs">98.80</text>
<text x="539.3" y="747.4" font-size="25.5" font-weight="bold" fill="#f23645" textLength="67.4" lengthAdjust="spacingAndGlyphs">86.05</text>
<text x="668.9" y="579" font-size="22" font-weight="bold" fill="#673ab7" textLength="110.3" lengthAdjust="spacingAndGlyphs">20-day MA</text>
<text x="1369.8" y="444.8" font-size="22.6" font-weight="bold" fill="#3179f5" textLength="125.1" lengthAdjust="spacingAndGlyphs">200-day MA</text>
<g fill="#131313"><path d="M15.4 841.5H30.5V859.8H23V848.6H15.4Z"/><circle cx="36.8" cy="845" r="3.75"/><path d="M44.3 841.5H52.7L45.6 859.8H37.2Z"/></g>
<text x="62" y="859.8" font-size="26.5" font-weight="bold" fill="#131313" textLength="151" lengthAdjust="spacingAndGlyphs">TradingView</text>
</svg></body></html>
